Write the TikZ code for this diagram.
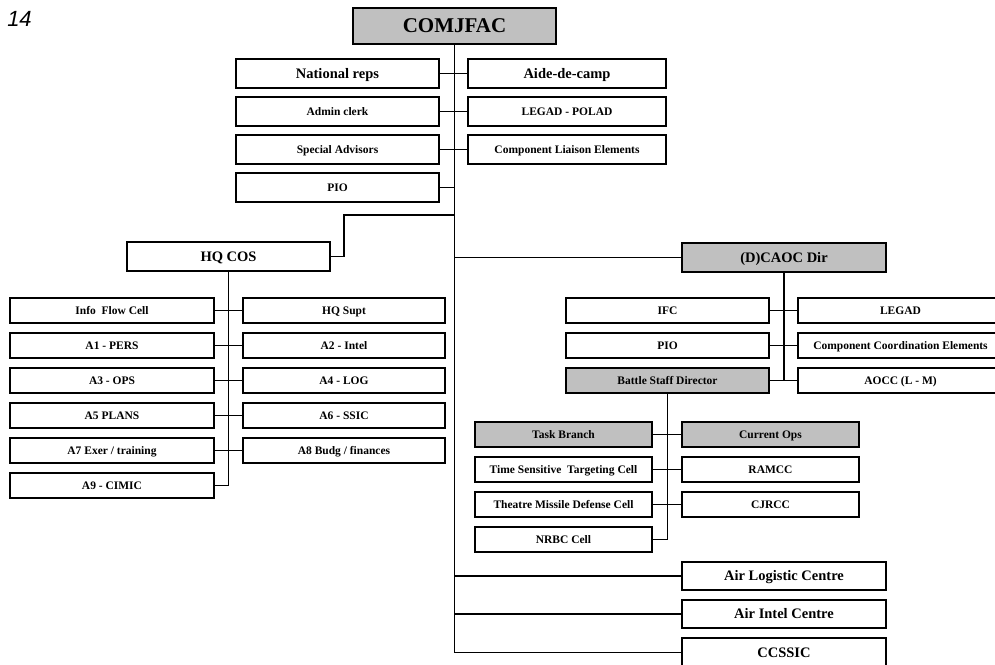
\documentclass[tikz,border=0pt]{standalone}
\usepackage{fontspec}
\setmainfont{Liberation Serif}
\newfontfamily\pagenofont{Liberation Sans}
\definecolor{boxgray}{RGB}{192,192,192}
\tikzset{
  unit/.style={draw=black, line width=1.3pt, fill=white, inner sep=0pt,
    text height=9.2pt, text depth=1.6pt,
    font=\bfseries\fontsize{11.5}{12}\selectfont},
  head/.style={unit, fill=boxgray},
  big/.style={text height=11.6pt, text depth=2pt,
    font=\bfseries\fontsize{14.5}{16}\selectfont},
  huge/.style={text height=16.8pt, text depth=2.9pt,
    font=\bfseries\fontsize{21}{24}\selectfont},
  link/.style={draw=black, line width=1.6pt},
}
% \orgbox{name}{x1}{y1}{x2}{y2}{style}{label}: box given by its corners
\newcommand\orgbox[7]{%
  \node[#6, minimum width={(#4-#2)*1pt}, minimum height={(#5-#3)*1pt}]
    (#1) at ({(#2+#4)/2},{(#3+#5)/2}) {#7};}
\begin{document}
\begin{tikzpicture}[x=1pt, y=-1pt]
\useasboundingbox (0,0) rectangle (995,664);

\node[font=\pagenofont\itshape\fontsize{22}{24}\selectfont] (pageno) at (19.5,18.5) {14};

% command group
\orgbox{comjfac}{353}{8}{556}{44}{head,huge}{COMJFAC}
\orgbox{natrep}{236}{59}{439}{88}{unit,big}{National reps}
\orgbox{aide}{468}{59}{666}{88}{unit,big}{Aide-de-camp}
\orgbox{admin}{236}{97}{439}{126}{unit}{Admin clerk}
\orgbox{legpol}{468}{97}{666}{126}{unit}{LEGAD - POLAD}
\orgbox{spadv}{236}{135}{439}{164}{unit}{Special Advisors}
\orgbox{cle}{468}{135}{666}{164}{unit}{Component Liaison Elements}
\orgbox{pio}{236}{173}{439}{202}{unit}{PIO}

% HQ chief of staff branch
\orgbox{hqcos}{127}{242}{330}{271}{unit,big}{HQ COS}
\orgbox{ifcell}{10}{298}{214}{323}{unit}{Info\ \ Flow Cell}
\orgbox{hqsupt}{243}{298}{445}{323}{unit}{HQ Supt}
\orgbox{aone}{10}{333}{214}{358}{unit}{A1 - PERS}
\orgbox{atwo}{243}{333}{445}{358}{unit}{A2 - Intel}
\orgbox{athree}{10}{368}{214}{393}{unit}{A3 - OPS}
\orgbox{afour}{243}{368}{445}{393}{unit}{A4 - LOG}
\orgbox{afive}{10}{403}{214}{428}{unit}{A5 PLANS}
\orgbox{asix}{243}{403}{445}{428}{unit}{A6 - SSIC}
\orgbox{aseven}{10}{438}{214}{463}{unit}{A7 Exer / training}
\orgbox{aeight}{243}{438}{445}{463}{unit}{A8 Budg / finances}
\orgbox{anine}{10}{473}{214}{498}{unit}{A9 - CIMIC}

% CAOC branch
\orgbox{caoc}{682}{243}{886}{272}{head,big}{(D)CAOC Dir}
\orgbox{ifc}{566}{298}{769}{323}{unit}{IFC}
\orgbox{legad}{798}{298}{1003}{323}{unit}{LEGAD}
\orgbox{piob}{566}{333}{769}{358}{unit}{PIO}
\orgbox{cce}{798}{333}{1003}{358}{unit}{Component Coordination Elements}
\orgbox{bsd}{566}{368}{769}{393}{head}{Battle Staff Director}
\orgbox{aocc}{798}{368}{1003}{393}{unit}{AOCC (L - M)}

% battle staff
\orgbox{task}{475}{422}{652}{447}{head}{Task Branch}
\orgbox{curops}{682}{422}{859}{447}{head}{Current Ops}
\orgbox{tst}{475}{457}{652}{482}{unit}{Time Sensitive\ \ Targeting Cell}
\orgbox{ramcc}{682}{457}{859}{482}{unit}{RAMCC}
\orgbox{tmd}{475}{492}{652}{517}{unit}{Theatre Missile Defense Cell}
\orgbox{cjrcc}{682}{492}{859}{517}{unit}{CJRCC}
\orgbox{nrbc}{475}{527}{652}{552}{unit}{NRBC Cell}

% centres
\orgbox{alc}{682}{562}{886}{590}{unit,big}{Air Logistic Centre}
\orgbox{aic}{682}{600}{886}{628}{unit,big}{Air Intel Centre}
\orgbox{ccssic}{682}{638}{886}{667}{unit,big}{CCSSIC}

% connectors
\coordinate (hqbend) at (344,215);
\path[link] (comjfac.south) |- (ccssic.west);
\path[link] (natrep.east) -- (aide.west);
\path[link] (admin.east) -- (legpol.west);
\path[link] (spadv.east) -- (cle.west);
\path[link] (pio.east) -- (pio.east -| comjfac.south);
\path[link] (hqcos.east) -| (hqbend) -- (hqbend -| comjfac.south);
\path[link] (caoc.west) -- (caoc.west -| comjfac.south);
\path[link] (alc.west) -- (alc.west -| comjfac.south);
\path[link] (aic.west) -- (aic.west -| comjfac.south);

\path[link] (hqcos.south) |- (anine.east);
\path[link] (ifcell.east) -- (hqsupt.west);
\path[link] (aone.east) -- (atwo.west);
\path[link] (athree.east) -- (afour.west);
\path[link] (afive.east) -- (asix.west);
\path[link] (aseven.east) -- (aeight.west);

\path[link] (caoc.south) |- (bsd.east);
\path[link] (ifc.east) -- (legad.west);
\path[link] (piob.east) -- (cce.west);
\path[link] (bsd.east) -- (aocc.west);

\path[link] (bsd.south) |- (nrbc.east);
\path[link] (task.east) -- (curops.west);
\path[link] (tst.east) -- (ramcc.west);
\path[link] (tmd.east) -- (cjrcc.west);
\end{tikzpicture}
\end{document}
